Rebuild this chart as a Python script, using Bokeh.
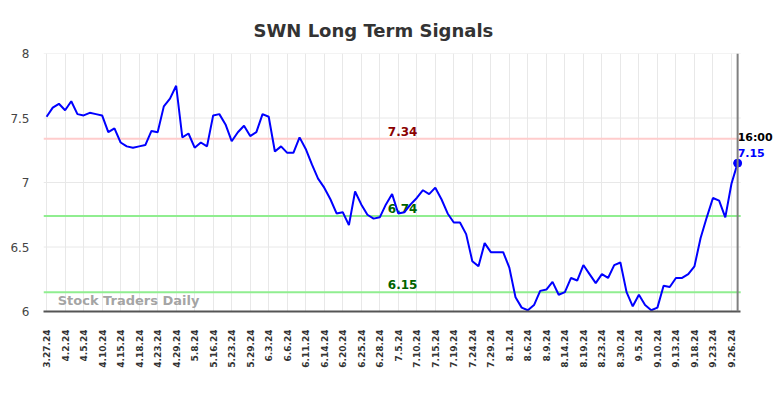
import math
from bokeh.plotting import figure
from bokeh.models import (Range1d, FixedTicker, NumeralTickFormatter, Span, Label,
                          ColumnDataSource)
from bokeh.core.properties import value
from bokeh.embed import file_html
from bokeh.resources import INLINE

# ---- data ----
tick_labels = ["3.27.24", "4.2.24", "4.5.24", "4.10.24", "4.15.24", "4.18.24", "4.23.24",
               "4.29.24", "5.8.24", "5.16.24", "5.23.24", "5.29.24", "6.3.24", "6.6.24",
               "6.11.24", "6.14.24", "6.20.24", "6.25.24", "6.28.24", "7.5.24", "7.10.24",
               "7.15.24", "7.19.24", "7.24.24", "7.29.24", "8.1.24", "8.6.24", "8.9.24",
               "8.14.24", "8.19.24", "8.23.24", "8.30.24", "9.5.24", "9.10.24", "9.13.24",
               "9.18.24", "9.23.24", "9.26.24"]
tick_step = 3

prices = [7.51, 7.58, 7.61, 7.56, 7.63, 7.53, 7.52, 7.54, 7.53, 7.52,
          7.39, 7.42, 7.31, 7.28, 7.27, 7.28, 7.29, 7.40, 7.39, 7.59,
          7.65, 7.75, 7.35, 7.38, 7.27, 7.31, 7.28, 7.52, 7.53, 7.45,
          7.32, 7.39, 7.44, 7.36, 7.39, 7.53, 7.51, 7.24, 7.28, 7.23,
          7.23, 7.35, 7.26, 7.14, 7.03, 6.96, 6.87, 6.76, 6.77, 6.67,
          6.93, 6.83, 6.75, 6.72, 6.73, 6.83, 6.91, 6.76, 6.77, 6.83,
          6.88, 6.94, 6.91, 6.96, 6.87, 6.76, 6.69, 6.69, 6.60, 6.39,
          6.35, 6.53, 6.46, 6.46, 6.46, 6.34, 6.11, 6.03, 6.01, 6.05,
          6.16, 6.17, 6.23, 6.13, 6.15, 6.26, 6.24, 6.36, 6.29, 6.22,
          6.29, 6.26, 6.36, 6.38, 6.15, 6.04, 6.13, 6.05, 6.01, 6.03,
          6.20, 6.19, 6.26, 6.26, 6.29, 6.35, 6.57, 6.73, 6.88, 6.86,
          6.73, 6.99, 7.15]

resistance_levels = [7.34]
support_levels = [6.74, 6.15]
last_time = "16:00"
y_ticks = [6, 6.5, 7, 7.5, 8]

x_idx = list(range(len(prices)))
x_lo = -0.5
x_hi = len(prices) - 0.5          # end of the drawn chart area
x_view_hi = x_hi + 5.8            # extra room on the right for the last-value label

# ---- figure ----
p = figure(width=776, height=390, output_backend="svg", toolbar_location=None,
           x_range=Range1d(x_lo, x_view_hi), y_range=Range1d(6, 8),
           min_border_left=43, min_border_right=0, min_border_top=53, min_border_bottom=79,
           title="SWN Long Term Signals")
p.outline_line_color = None
p.background_fill_color = "white"
p.border_fill_color = "white"

p.title.align = "left"
p.title.offset = 210
p.title.text_font = "DejaVu Sans"
p.title.text_font_size = "18px"
p.title.text_font_style = "bold"
p.title.text_color = "#333333"
p.title.standoff = 25

# x axis
tick_pos = [i * tick_step for i in range(len(tick_labels))]
p.xaxis.ticker = FixedTicker(ticks=tick_pos)
p.xaxis.major_label_overrides = {t: lab for t, lab in zip(tick_pos, tick_labels)}
p.xaxis.major_label_orientation = math.pi / 2
p.xaxis.major_label_text_font = "DejaVu Sans"
p.xaxis.major_label_text_font_size = "9px"
p.xaxis.major_label_text_font_style = "bold"
p.xaxis.major_label_text_color = "#333333"
p.xaxis.major_label_standoff = 18
p.xaxis.major_tick_out = 0
p.xaxis.major_tick_in = 0
p.xaxis.minor_tick_out = 0
p.xaxis.minor_tick_in = 0
p.xaxis.axis_line_color = "#555555"
p.xaxis.axis_line_width = 2
p.xaxis.bounds = (x_lo, x_hi)

# y axis
p.yaxis.ticker = FixedTicker(ticks=y_ticks)
p.yaxis.formatter = NumeralTickFormatter(format="0.[0]")
p.yaxis.major_label_text_font = "DejaVu Sans"
p.yaxis.major_label_text_font_size = "12px"
p.yaxis.major_label_text_color = "#444444"
p.yaxis.major_label_standoff = 14
p.yaxis.major_tick_out = 0
p.yaxis.major_tick_in = 0
p.yaxis.minor_tick_out = 0
p.yaxis.minor_tick_in = 0
p.yaxis.axis_line_color = None

p.xgrid.grid_line_color = "#e8e8e8"
p.ygrid.grid_line_color = None

# horizontal grid lines limited to the chart area
gy = y_ticks[1:]
p.segment(x0=[x_lo] * len(gy), x1=[x_hi] * len(gy), y0=gy, y1=gy,
          line_color="#e8e8e8", line_width=1)

# watermark
p.add_layout(Label(x=1.8, y=6.03, text="Stock Traders Daily", text_font="DejaVu Sans",
                   text_font_size="13px", text_font_style="bold", text_color="#999999",
                   text_alpha=0.9, text_baseline="bottom"))

# level lines
p.segment(x0=[x_lo] * len(resistance_levels), x1=[x_hi] * len(resistance_levels),
          y0=resistance_levels, y1=resistance_levels, line_color="#ffcccc", line_width=2)
p.segment(x0=[x_lo] * len(support_levels), x1=[x_hi] * len(support_levels),
          y0=support_levels, y1=support_levels, line_color="#90ee90", line_width=2)

label_x = 57.7
res_src = ColumnDataSource(dict(x=[label_x] * len(resistance_levels), y=resistance_levels,
                                t=[f"{v:.2f}" for v in resistance_levels]))
sup_src = ColumnDataSource(dict(x=[label_x] * len(support_levels), y=support_levels,
                                t=[f"{v:.2f}" for v in support_levels]))
p.text(x="x", y="y", text="t", source=res_src, text_font=value("DejaVu Sans"),
       text_font_size="12px", text_font_style="bold", text_color="#8b0000",
       text_align="center", text_baseline="bottom", y_offset=-3)
p.text(x="x", y="y", text="t", source=sup_src, text_font=value("DejaVu Sans"),
       text_font_size="12px", text_font_style="bold", text_color="#006400",
       text_align="center", text_baseline="bottom", y_offset=-3)

# price line
p.line(x_idx, prices, line_color="#0000ff", line_width=2)

# end marker
last_x = x_idx[-1]
last_y = prices[-1]
p.add_layout(Span(location=last_x, dimension="height", line_color="#808080", line_width=2))
p.scatter([last_x], [last_y], size=8, color="#0000ff")
p.text(x=[last_x], y=[last_y], text=[last_time], text_font=value("DejaVu Sans"),
       text_font_size="11px", text_font_style="bold", text_color="#000000",
       text_align="left", text_baseline="bottom", y_offset=-19)
p.text(x=[last_x], y=[last_y], text=[f"{last_y:.2f}"], text_font=value("DejaVu Sans"),
       text_font_size="11px", text_font_style="bold", text_color="#0000ff",
       text_align="left", text_baseline="bottom", y_offset=-6)

open("out.html", "w").write(file_html(p, INLINE))
